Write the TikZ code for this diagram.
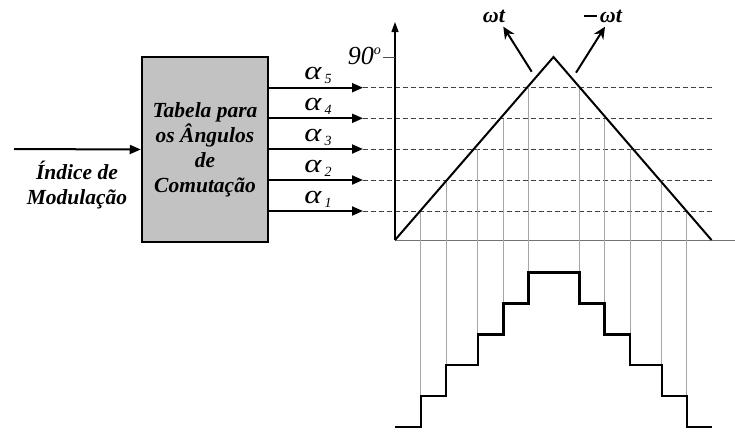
\documentclass[tikz,border=0pt]{standalone}
\usepackage{fontspec}
\setmainfont{Liberation Serif}
\usetikzlibrary{arrows.meta}
\begin{document}
\begin{tikzpicture}[x=1pt,y=-1pt,
  txt/.style={font=\fontsize{21.5}{25}\selectfont\bfseries\itshape, align=center, inner sep=0pt},
  arr/.style={line width=2pt, -{Triangle[length=11pt,width=9pt]}},
  warr/.style={line width=2pt, -{Stealth[length=12pt,width=11pt]}},
  lvl/.style={dash pattern=on 5pt off 3pt, line width=0.9pt, black!75},
  guide/.style={black!35, line width=0.7pt},
  alab/.style={font=\fontsize{26}{26}\selectfont\itshape, anchor=base, inner sep=0pt},
  wlab/.style={font=\fontsize{22}{22}\selectfont\bfseries\itshape, inner sep=0pt},
  tri/.style={line width=2pt, line join=miter},
  stair/.style={line width=2.4pt, line join=miter}]
\useasboundingbox (0,0) rectangle (735,432);

% table box
\node[draw, line width=2.5pt, fill=black!24, minimum width=126pt, minimum height=185pt, txt] (tab) at (205,149.5)
  {Tabela para\\os Ângulos\\de\\Comutação};
\node[txt] (idx) at (77,185.5) {Índice de\\Modulação};
\coordinate (in) at (14,149);
\draw[arr] (in) -- (tab.west);

% output arrows and levels
\foreach \n/\y in {5/87.7,4/118.3,3/149,2/180,1/211}{
  \coordinate (a\n) at (363,\y);
  \coordinate (e\n) at (712,\y);
  \draw[lvl] (a\n) -- (e\n);
  \draw[arr] (tab.east |- a\n) -- (a\n);
  \node[alab] (l\n) at (318,\y-8) {\scalebox{1.25}[1]{α}\kern3pt\raisebox{-4pt}{\fontsize{14}{14}\selectfont\n}};
}

% axes
\coordinate (o) at (395,240);
\coordinate (ytop) at (395,22);
\coordinate (xend) at (735,240);
\draw[black!55, line width=1pt] (o) -- (xend);
\draw[line width=1.3pt, -{Triangle[length=10pt,width=7pt]}] (o) -- (ytop);
\coordinate (tk) at (383,57);
\draw[black!70, line width=1pt] (tk) -- (395,57);
\node[font=\fontsize{26}{26}\selectfont\itshape, anchor=base east, inner sep=0pt] (ninety) at (381,64) {90\raisebox{10pt}{\fontsize{14}{14}\selectfont o}};

% guides
\foreach \x/\ya/\yb in {420.7/211/395.7, 446/180/365, 477.7/149.3/334.3, 503.3/118.7/303.3, 528.3/88/272.3,
  579.3/88/272.3, 604.3/118.7/303.3, 630/149.3/334.3, 661.7/180/365, 686.7/211/395.7}{
  \draw[guide] (\x,\ya) -- (\x,\yb);
}

% triangle
\coordinate (pk) at (553.5,57);
\coordinate (re) at (711.5,240);
\draw[tri] (o) -- (pk) -- (re);

% omega t arrows
\node[wlab] (wt) at (494,16) {ωt};
\node[wlab] (mwt) at (603,16) {\rule[5pt]{13pt}{1.6pt}\kern3pt ωt};
\coordinate (w1) at (531.7,71.7);
\coordinate (w2) at (503.3,26.7);
\coordinate (m1) at (576,72.7);
\coordinate (m2) at (605,26.7);
\draw[warr] (w1) -- (w2);
\draw[warr] (m1) -- (m2);

% staircase
\draw[stair] (395,426.7) -- (420.7,426.7) -- (420.7,395.7) -- (446,395.7) -- (446,365) -- (477.7,365)
  -- (477.7,334.3) -- (503.3,334.3) -- (503.3,303.3) -- (528.3,303.3) -- (528.3,272.3) -- (579.3,272.3)
  -- (579.3,303.3) -- (604.3,303.3) -- (604.3,334.3) -- (630,334.3) -- (630,365) -- (661.7,365)
  -- (661.7,395.7) -- (686.7,395.7) -- (686.7,426.7) -- (712,426.7);
\end{tikzpicture}
\end{document}
